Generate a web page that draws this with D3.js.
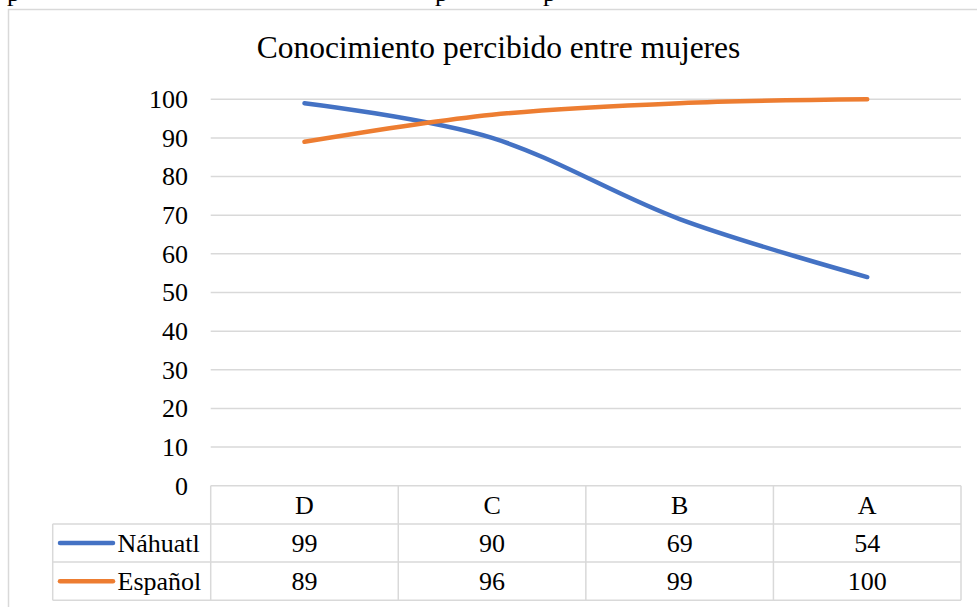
<!DOCTYPE html>
<html>
<head>
<meta charset="utf-8">
<script src="https://cdn.jsdelivr.net/npm/d3@7"></script>
<style>
  body { margin: 0; background: #fff; }
  text { font-family: "Liberation Serif", "Times New Roman", serif; fill: #000; }
</style>
</head>
<body>
<div id="chart-area"></div>
<script>
const categories = ["D", "C", "B", "A"];
const nahuatl = [99, 90, 69, 54];
const espanol = [89, 96, 99, 100];
const seriesNames = ["Náhuatl", "Español"];
const seriesColors = ["#4472C4", "#ED7D31"];
const yTicks = [0, 10, 20, 30, 40, 50, 60, 70, 80, 90, 100];
const title = "Conocimiento percibido entre mujeres";

const width = 977;
const height = 607;
const plot = {left: 210.7, right: 961, top: 99.3, bottom: 485.7};
const rowH = 38.2;
const headerLeft = 52.7;
const grid = "#d9d9d9";

const svg = d3.select("#chart-area").append("svg")
    .attr("width", width)
    .attr("height", height);

// descenders of the text line above the chart (cut off by the page)
[7, 435, 543].forEach((px) => {
  svg.append("text")
    .attr("x", px)
    .attr("y", 1)
    .style("font-size", "26px")
    .text("p");
});

// chart border
svg.append("rect")
    .attr("x", 8.5)
    .attr("y", 9.5)
    .attr("width", 1000)
    .attr("height", 700)
    .attr("fill", "#fff")
    .attr("stroke", grid)
    .attr("stroke-width", 1.5);

svg.append("text")
    .attr("x", 498.5)
    .attr("y", 58)
    .attr("text-anchor", "middle")
    .style("font-size", "31.5px")
    .text(title);

const x = d3.scaleBand().domain(categories).range([plot.left, plot.right]).padding(0);
const y = d3.scaleLinear().domain([0, 100]).range([plot.bottom, plot.top]);
const cx = (d) => x(d) + x.bandwidth() / 2;

// gridlines
svg.append("g").selectAll("line")
  .data(yTicks.filter((t) => t > 0))
  .enter().append("line")
    .attr("x1", plot.left)
    .attr("x2", plot.right)
    .attr("y1", (d) => y(d))
    .attr("y2", (d) => y(d))
    .attr("stroke", grid)
    .attr("stroke-width", 1.5);

// y axis labels
const yAxis = d3.axisLeft(y).tickValues(yTicks).tickSize(0).tickPadding(0);
const yAxisGroup = svg.append("g")
    .attr("transform", "translate(188,0)")
    .call(yAxis);
yAxisGroup.select(".domain").remove();
yAxisGroup.selectAll("text")
    .attr("fill", "#000")
    .style("font-family", '"Liberation Serif", "Times New Roman", serif')
    .style("font-size", "26px");

// data table
const tbl = svg.append("g")
    .attr("fill", "none")
    .attr("stroke", grid)
    .attr("stroke-width", 1.5);
const rowsY = [plot.bottom, plot.bottom + rowH, plot.bottom + 2 * rowH, plot.bottom + 3 * rowH];

tbl.append("line").attr("x1", plot.left).attr("x2", plot.right).attr("y1", rowsY[0]).attr("y2", rowsY[0]);
[1, 2, 3].forEach((i) => {
  tbl.append("line").attr("x1", headerLeft).attr("x2", plot.right).attr("y1", rowsY[i]).attr("y2", rowsY[i]);
});
tbl.append("line").attr("x1", headerLeft).attr("x2", headerLeft).attr("y1", rowsY[1]).attr("y2", rowsY[3]);
categories.forEach((c) => {
  tbl.append("line").attr("x1", x(c)).attr("x2", x(c)).attr("y1", rowsY[0]).attr("y2", rowsY[3]);
});
tbl.append("line").attr("x1", plot.right).attr("x2", plot.right).attr("y1", rowsY[0]).attr("y2", rowsY[3]);

svg.append("g").selectAll("text")
  .data(categories)
  .enter().append("text")
    .attr("x", (d) => cx(d))
    .attr("y", (rowsY[0] + rowsY[1]) / 2)
    .attr("dy", "0.34em")
    .attr("text-anchor", "middle")
    .style("font-size", "26px")
    .text((d) => d);

const allSeries = [nahuatl, espanol];

allSeries.forEach((vals, i) => {
  const midY = (rowsY[i + 1] + rowsY[i + 2]) / 2;

  svg.append("line")
      .attr("x1", 60)
      .attr("x2", 113)
      .attr("y1", midY)
      .attr("y2", midY)
      .attr("stroke", seriesColors[i])
      .attr("stroke-width", 4.5)
      .attr("stroke-linecap", "round");

  svg.append("text")
      .attr("x", 117.5)
      .attr("y", midY)
      .attr("dy", "0.34em")
      .style("font-size", "26px")
      .text(seriesNames[i]);

  svg.append("g").selectAll("text")
    .data(vals)
    .enter().append("text")
      .attr("x", (d, j) => cx(categories[j]))
      .attr("y", midY)
      .attr("dy", "0.34em")
      .attr("text-anchor", "middle")
      .style("font-size", "26px")
      .text((d) => d);
});

// lines
const line = d3.line()
    .x((d, j) => cx(categories[j]))
    .y((d) => y(d))
    .curve(d3.curveCardinal.tension(0));

allSeries.forEach((vals, i) => {
  svg.append("path")
      .datum(vals)
      .attr("fill", "none")
      .attr("stroke", seriesColors[i])
      .attr("stroke-width", 4.5)
      .attr("stroke-linecap", "round")
      .attr("d", line);
});
</script>
</body>
</html>
